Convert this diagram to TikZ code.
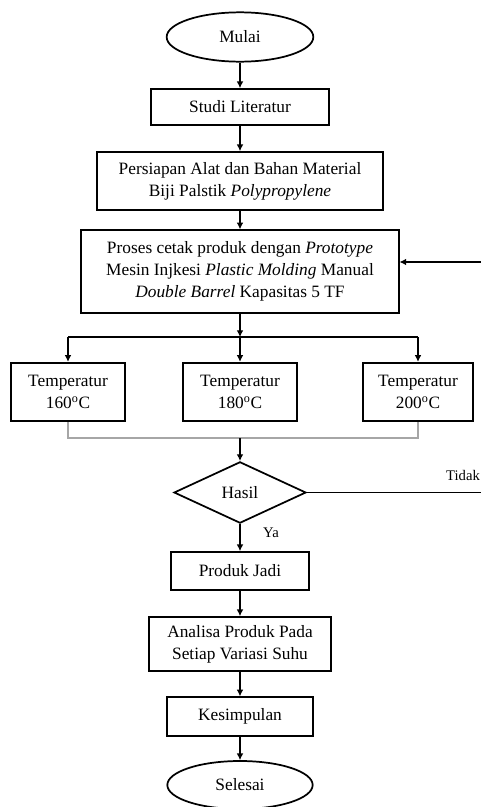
\documentclass[tikz,border=0pt]{standalone}
\usepackage{fontspec}
\setmainfont{Liberation Serif}
\usepackage{tikz}
\usetikzlibrary{arrows.meta,shapes.geometric,calc}

\begin{document}
\begin{tikzpicture}[x=0.75pt,y=-0.75pt,
  font=\fontsize{13}{16.5}\selectfont,
  box/.style={draw,line width=1.3pt,align=center,inner sep=2pt},
  terminal/.style={draw,ellipse,line width=1.3pt,inner sep=0pt},
  decision/.style={draw,diamond,line width=1.3pt,inner sep=0pt},
  arr/.style={-{Latex[length=5pt,width=5pt]},line width=0.8pt},
  link/.style={line width=0.8pt},
  lbl/.style={font=\fontsize{11}{13}\selectfont}]
\useasboundingbox (0,0) rectangle (481,807);

% urutan utama
\node[terminal,minimum width=110pt,minimum height=37pt] (mulai) at (240,37) {Mulai};
\node[box,minimum width=133pt,minimum height=27pt] (studi) at (240,107) {Studi Literatur};
\node[box,minimum width=215pt,minimum height=43.5pt] (persiapan) at (240,181)
  {Persiapan Alat dan Bahan Material\\Biji Palstik \textit{Polypropylene}};
\node[box,minimum width=238pt,minimum height=62pt] (proses) at (240,271.5)
  {Proses cetak produk dengan \textit{Prototype}\\Mesin Injkesi \textit{Plastic Molding} Manual\\\textit{Double Barrel} Kapasitas 5 TF};

% variasi suhu
\node[box,minimum width=85pt,minimum height=44pt] (t160) at (68,392) {Temperatur\\160\textsuperscript{o}C};
\node[box,minimum width=86pt,minimum height=44pt] (t180) at (240,392) {Temperatur\\180\textsuperscript{o}C};
\node[box,minimum width=82pt,minimum height=44pt] (t200) at (418,392) {Temperatur\\200\textsuperscript{o}C};
\coordinate (split) at (240,337);
\coordinate (join) at (240,438);

\node[decision,minimum width=99pt,minimum height=46pt] (hasil) at (240,492.5) {Hasil};
\node[box,minimum width=103.5pt,minimum height=28.5pt] (jadi) at (240,571) {Produk Jadi};
\node[box,minimum width=136pt,minimum height=40.5pt] (analisa) at (240,644)
  {Analisa Produk Pada\\Setiap Variasi Suhu};
\node[box,minimum width=109pt,minimum height=29pt] (kesimpulan) at (240,716.5) {Kesimpulan};
\node[terminal,minimum width=109pt,minimum height=36pt] (selesai) at (240,785) {Selesai};

\node[lbl] (tidak) at (463,475) {Tidak};
\node[lbl] (ya) at (271,533) {Ya};
\coordinate (loopa) at (495,492.5);
\coordinate (loopb) at (495,262);

\draw[arr] (mulai) -- (studi);
\draw[arr] (studi) -- (persiapan);
\draw[arr] (persiapan) -- (proses);
\draw[arr] (proses) -- (split);
\draw[link] (split) -- (split -| t160.north);
\draw[link] (split) -- (split -| t200.north);
\draw[arr] (split -| t160.north) -- (t160.north);
\draw[arr] (split) -- (t180);
\draw[arr] (split -| t200.north) -- (t200.north);
\draw[gray!70,line width=0.8pt] (t160.south) |- (join) -| (t200.south);
\draw[arr] (join) -- (hasil);
\draw[arr] (hasil) -- (jadi);
\draw[arr] (jadi) -- (analisa);
\draw[arr] (analisa) -- (kesimpulan);
\draw[arr] (kesimpulan) -- (selesai);
\draw[link] (hasil.east) -- (loopa) -- (loopb);
\draw[arr] (loopb) -- (proses.east |- loopb);
\end{tikzpicture}
\end{document}
